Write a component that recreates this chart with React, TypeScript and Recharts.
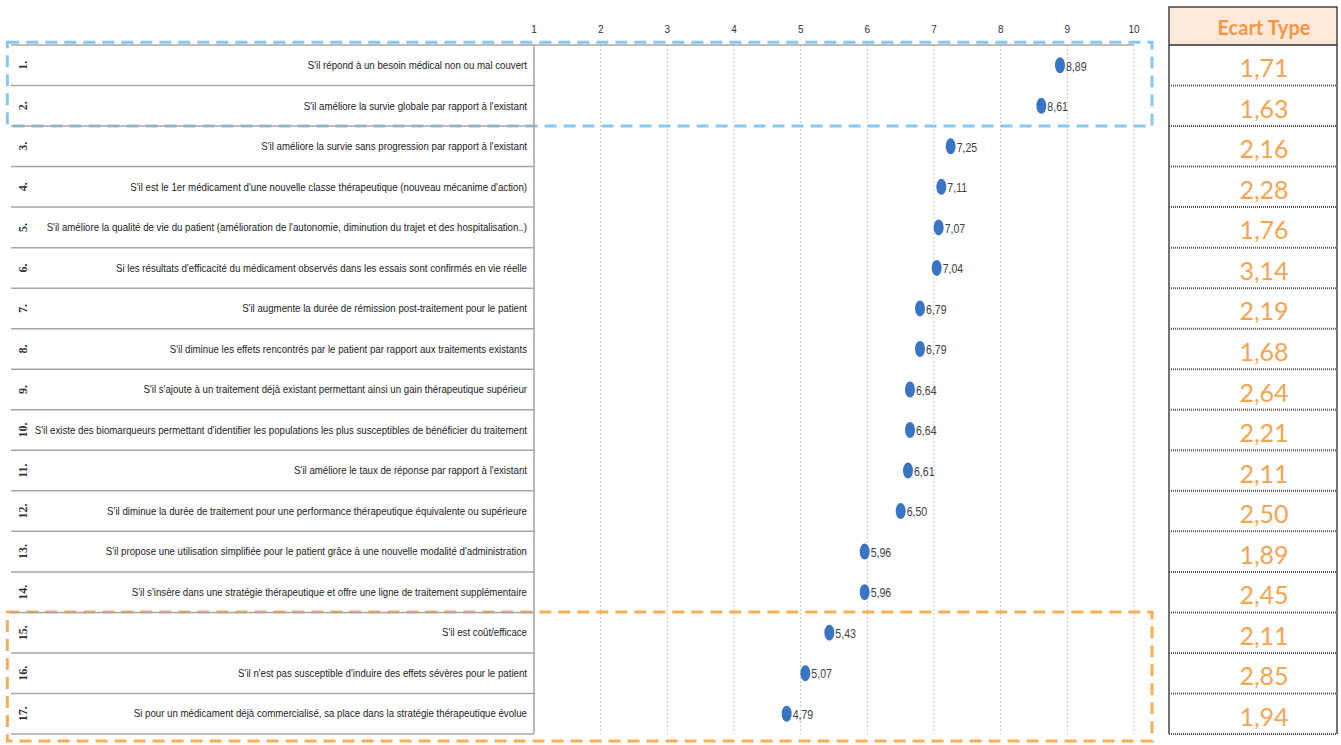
import React from 'react';
import { ScatterChart, Scatter, XAxis, YAxis, CartesianGrid, ReferenceArea } from 'recharts';

// criteria, in the order shown (top to bottom)
const criteria = [
  "S'il répond à un besoin médical non ou mal couvert",
  "S'il améliore la survie globale par rapport à l'existant",
  "S'il améliore la survie sans progression par rapport à l'existant",
  "S'il est le 1er médicament d'une nouvelle classe thérapeutique (nouveau mécanime d'action)",
  "S'il améliore la qualité de vie du patient (amélioration de l'autonomie, diminution du trajet et des hospitalisation..)",
  "Si les résultats d'efficacité du médicament observés dans les essais sont confirmés en vie réelle",
  "S'il augmente la durée de rémission post-traitement pour le patient",
  "S'il diminue les effets rencontrés par le patient par rapport aux traitements existants",
  "S'il s'ajoute à un traitement déjà existant permettant ainsi un gain thérapeutique supérieur",
  "S'il existe des biomarqueurs permettant d'identifier les populations les plus susceptibles de bénéficier du traitement",
  "S'il améliore le taux de réponse par rapport à l'existant",
  "S'il diminue la durée de traitement pour une performance thérapeutique équivalente ou supérieure",
  "S'il propose une utilisation simplifiée pour le patient grâce à une nouvelle modalité d'administration",
  "S'il s'insère dans une stratégie thérapeutique et offre une ligne de traitement supplémentaire",
  "S'il est coût/efficace",
  "S'il n'est pas susceptible d'induire des effets sévères pour le patient",
  "Si pour un médicament déjà commercialisé, sa place dans la stratégie thérapeutique évolue",
];

const scores = [8.89, 8.61, 7.25, 7.11, 7.07, 7.04, 6.79, 6.79, 6.64, 6.64, 6.61, 6.5, 5.96, 5.96, 5.43, 5.07, 4.79];
const ecartType = [1.71, 1.63, 2.16, 2.28, 1.76, 3.14, 2.19, 1.68, 2.64, 2.21, 2.11, 2.5, 1.89, 2.45, 2.11, 2.85, 1.94];
const xTicks = [1, 2, 3, 4, 5, 6, 7, 8, 9, 10];

const W = 1341;
const H = 745;
const TOP_AXIS_H = 45;
const BOTTOM = 11;
const ROW_H = (H - TOP_AXIS_H - BOTTOM) / criteria.length;

const fmt = (v: number) => v.toFixed(2).replace('.', ',');

const data = scores.map((s, i) => ({ x: s, y: i + 0.5, label: fmt(s) }));
// ticks at row borders (integers) and row centres (halves)
const rowTicks: number[] = [];
for (let k = 0; k <= criteria.length * 2; k++) rowTicks.push(k / 2);

const LeftTick = (props: any) => {
  const { x, y, payload } = props;
  const v = payload.value as number;
  if (Number.isInteger(v)) {
    return <line x1={11} x2={x} y1={y} y2={y} stroke="#a6a6a6" strokeWidth={1.5} />;
  }
  const i = Math.floor(v);
  return (
    <g>
      <text
        x={23}
        y={y}
        transform={`rotate(-90, 23, ${y})`}
        textAnchor="middle"
        dominantBaseline="central"
        fontFamily="'Liberation Serif', serif"
        fontWeight="bold"
        fontSize={12}
        fill="#333"
      >
        {`${i + 1}.`}
      </text>
      {/* condensed look, like the narrow office font */}
      <g transform={`translate(${x - 7}, ${y}) scale(0.88, 1)`}>
        <text
          x={0}
          y={0}
          textAnchor="end"
          dominantBaseline="central"
          fontFamily="'Liberation Sans', sans-serif"
          fontSize={11}
          fill="#222"
        >
          {criteria[i]}
        </text>
      </g>
    </g>
  );
};

const RightTick = (props: any) => {
  const { x, y, payload } = props;
  const v = payload.value as number;
  const l = x + 35;
  const r = x + 203;
  const c = x + 130;
  if (Number.isInteger(v)) {
    return (
      <g>
        {v === 0 && (
          <g>
            <rect x={l} y={y - 38} width={r - l} height={38} fill="#fde9d9" stroke="#444" strokeWidth={1.5} />
            <text
              x={c}
              y={y - 18}
              textAnchor="middle"
              dominantBaseline="central"
              fontFamily="Lato, 'Open Sans', sans-serif"
              fontWeight="bold"
              fontSize={20}
              fill="#f79646"
            >
              Ecart Type
            </text>
          </g>
        )}
        <line x1={l} x2={r} y1={y} y2={y} stroke="#555" strokeWidth={2} strokeDasharray="1 1" />
      </g>
    );
  }
  const i = Math.floor(v);
  return (
    <g>
      <line x1={l} x2={l} y1={y - ROW_H / 2} y2={y + ROW_H / 2} stroke="#444" strokeWidth={1.5} />
      <line x1={r} x2={r} y1={y - ROW_H / 2} y2={y + ROW_H / 2} stroke="#444" strokeWidth={1.5} />
      <text
        x={c}
        y={y + 2}
        textAnchor="middle"
        dominantBaseline="central"
        fontFamily="Lato, 'Open Sans', sans-serif"
        fontSize={25}
        fill="#f5a452"
      >
        {fmt(ecartType[i])}
      </text>
    </g>
  );
};

const Dot = (props: any) => {
  const { cx, cy, payload } = props;
  return (
    <g>
      <ellipse cx={cx} cy={cy} rx={5} ry={8} fill="#3a74c4" />
      <g transform={`translate(${cx + 6}, ${cy + 1}) scale(0.88, 1)`}>
        <text
          x={0}
          y={0}
          dominantBaseline="central"
          fontFamily="'Liberation Sans', sans-serif"
          fontSize={12}
          fill="#404040"
        >
          {payload.label}
        </text>
      </g>
    </g>
  );
};

const NoMark = () => <g />;

export default function App() {
  return (
    <div style={{ position: 'absolute', left: 0, top: 0, background: '#fff' }}>
      <ScatterChart width={W} height={H} margin={{ top: 0, right: 0, bottom: BOTTOM, left: 0 }}>
        <CartesianGrid vertical horizontal={false} stroke="#c4c4c4" strokeDasharray="2 2" yAxisId="left" />
        <XAxis
          type="number"
          dataKey="x"
          orientation="top"
          domain={[1, 10]}
          ticks={xTicks}
          interval={0}
          height={TOP_AXIS_H}
          tickLine={false}
          tickSize={10}
          axisLine={{ stroke: '#a6a6a6', strokeWidth: 1.5 }}
          tick={{ fontSize: 10, fill: '#333', fontFamily: "'Liberation Sans', sans-serif" }}
        />
        <YAxis
          yAxisId="left"
          type="number"
          dataKey="y"
          domain={[0, criteria.length]}
          reversed
          ticks={rowTicks}
          interval={0}
          width={534}
          tickLine={false}
          tickSize={0}
          tickMargin={0}
          axisLine={{ stroke: '#a6a6a6', strokeWidth: 1.5 }}
          tick={<LeftTick />}
        />
        <YAxis
          yAxisId="right"
          orientation="right"
          type="number"
          dataKey="y"
          domain={[0, criteria.length]}
          reversed
          ticks={rowTicks}
          interval={0}
          width={207}
          tickLine={false}
          tickSize={0}
          tickMargin={0}
          axisLine={false}
          tick={<RightTick />}
        />
        <Scatter yAxisId="left" data={data} shape={<Dot />} isAnimationActive={false} />
        {/* hidden series so the right-hand axis gets drawn */}
        <Scatter yAxisId="right" data={data} shape={<NoMark />} isAnimationActive={false} />
        <ReferenceArea
          yAxisId="left"
          x1={-6.9}
          x2={10.27}
          y1={-0.07}
          y2={2}
          ifOverflow="visible"
          fill="none"
          stroke="#86c8f0"
          strokeWidth={3}
          strokeDasharray="12 7"
        />
        <ReferenceArea
          yAxisId="left"
          x1={-6.9}
          x2={10.27}
          y1={13.99}
          y2={17.17}
          ifOverflow="visible"
          fill="none"
          stroke="#f9ae55"
          strokeWidth={3}
          strokeDasharray="12 7"
        />
      </ScatterChart>
    </div>
  );
}
